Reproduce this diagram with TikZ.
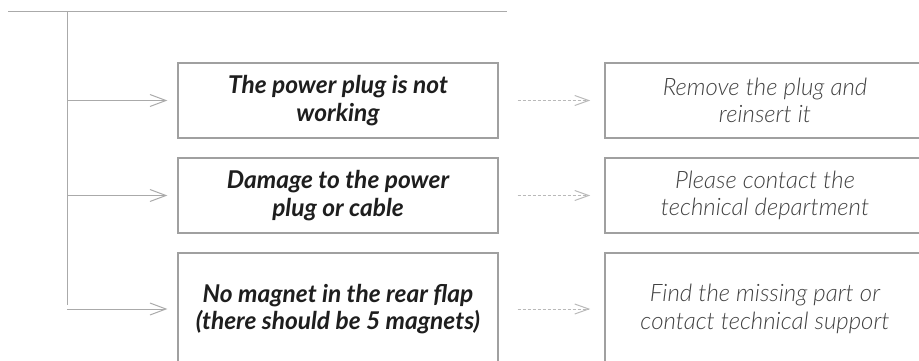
\documentclass[tikz,border=0pt]{standalone}
\usepackage{fontspec}
\setmainfont{Lato}
\newfontfamily\lightfont{Lato}[UprightFont=* Light, ItalicFont=* Light Italic]
\usetikzlibrary{arrows.meta}
\definecolor{linegray}{RGB}{170,170,170}
\definecolor{boxgray}{RGB}{160,160,160}
\definecolor{dashgray}{RGB}{185,185,185}
\definecolor{darktext}{RGB}{30,30,30}
\definecolor{lighttext}{RGB}{65,65,65}
\tikzset{
  causebox/.style={draw=boxgray, line width=1.2pt, minimum width=320pt, align=center,
    font=\fontsize{24.5}{27.5}\selectfont\bfseries\itshape, text=darktext, inner sep=0pt},
  fixbox/.style={draw=boxgray, line width=1.2pt, minimum width=320pt, align=center,
    font=\fontsize{24}{27.5}\selectfont\lightfont\itshape, text=lighttext, inner sep=0pt},
  branch/.style={draw=linegray, line width=1pt, -{Straight Barb[length=16pt,width=12pt,line width=1pt]}, shorten >=10pt},
  dasharrow/.style={draw=dashgray, line width=1pt, dash pattern=on 3pt off 2pt, -{Straight Barb[length=14pt,width=10pt,line width=1pt,sep]}},
  trunk/.style={draw=linegray, line width=1pt}
}
\begin{document}
\begin{tikzpicture}[x=1pt,y=-1pt]
\useasboundingbox (0,0) rectangle (919,361);
\clip (0,0) rectangle (919,361);
\coordinate (tl) at (8,12);
\coordinate (tr) at (507,12);
\coordinate (vt) at (67,12);
\coordinate (vb) at (67,305);
\node[causebox, minimum height=75pt] (c1) at (338,100.5) {The power plug is not\\working};
\node[causebox, minimum height=75pt] (c2) at (338,195.5) {Damage to the power\\plug or cable};
\node[causebox, minimum height=112pt] (c3) at (338,309) {No magnet in the rear flap\\(there should be 5 magnets)};
\node[fixbox, minimum height=75pt] (f1) at (765,100.5) {Remove the plug and\\reinsert it};
\node[fixbox, minimum height=75pt] (f2) at (765,195.5) {Please contact the\\technical department};
\node[fixbox, minimum height=112pt] (f3) at (765,309) {Find the missing part or\\contact technical support};
\draw[trunk] (tl) -- (tr);
\draw[trunk] (vt) -- (vb);
\coordinate (b1) at (67,100.5);
\coordinate (b2) at (67,195.5);
\coordinate (b3) at (67,309);
\draw[branch] (b1) -- (c1.west);
\draw[branch] (b2) -- (c2.west);
\draw[branch] (b3) -- (c3.west);
\draw[dasharrow, shorten <=19pt, shorten >=13pt] (c1.east) -- (f1.west);
\draw[dasharrow, shorten <=19pt, shorten >=13pt] (c2.east) -- (f2.west);
\draw[dasharrow, shorten <=19pt, shorten >=13pt] (c3.east) -- (f3.west);
\end{tikzpicture}
\end{document}
